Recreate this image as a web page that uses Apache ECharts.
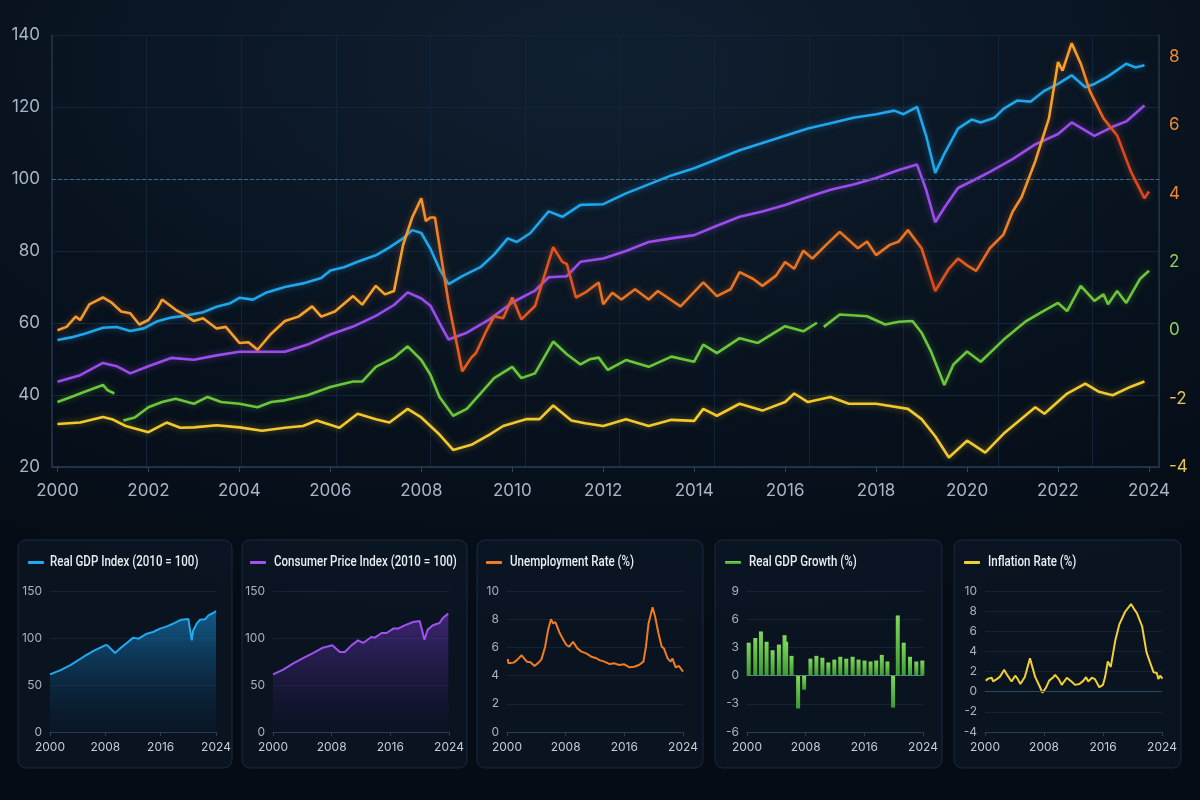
<!DOCTYPE html>
<html>
<head>
<meta charset="utf-8">
<script src="https://cdn.jsdelivr.net/npm/echarts@6/dist/echarts.min.js"></script>
<style>
  html, body { margin: 0; padding: 0; }
  body {
    width: 1200px; height: 800px; overflow: hidden;
    background: radial-gradient(ellipse 90% 70% at 50% 8%, #101f31 0%, #08131f 55%, #050c16 100%);
  }
  #chart { width: 1200px; height: 800px; }
</style>
</head>
<body>
<div id="chart"></div>
<script>
// main chart - left axis (index), right axis (percent)
var gdpIndexMain = [[2000,55.3],[2000.3,56],[2000.6,57],[2001,58.7],[2001.3,58.9],[2001.6,57.8],[2001.9,58.5],[2002.2,60.5],[2002.5,61.5],[2002.8,62],[2003.2,63],[2003.5,64.5],[2003.8,65.5],[2004,67],[2004.3,66.5],[2004.6,68.5],[2005,70],[2005.4,71],[2005.8,72.5],[2006,74.6],[2006.3,75.5],[2006.6,77],[2007,78.8],[2007.3,81],[2007.6,83.5],[2007.8,85.8],[2008,85],[2008.2,80.6],[2008.4,75],[2008.6,70.8],[2008.9,73],[2009.3,75.5],[2009.6,79],[2009.9,83.5],[2010.1,82.5],[2010.4,85],[2010.8,91],[2011.1,89.5],[2011.5,92.8],[2012,93],[2012.5,96],[2013,98.5],[2013.5,101],[2014,103],[2014.5,105.5],[2015,108],[2015.5,110],[2016,112],[2016.5,114],[2017,115.5],[2017.5,117],[2018,118],[2018.4,119],[2018.6,118],[2018.9,120],[2019.1,112],[2019.3,101.7],[2019.5,107],[2019.8,114],[2020.1,116.5],[2020.3,115.7],[2020.6,117],[2020.8,119.5],[2021.1,121.8],[2021.4,121.5],[2021.7,124.5],[2022,126.4],[2022.3,128.8],[2022.6,125.5],[2022.8,126.4],[2023.1,128.5],[2023.5,132],[2023.7,131],[2023.9,131.6]];
var cpiMain = [[2000,43.7],[2000.5,45.5],[2001,48.9],[2001.3,48],[2001.6,46],[2002,48],[2002.5,50.3],[2003,49.8],[2003.5,51],[2004,52],[2004.5,52],[2005,52],[2005.5,54],[2006,56.8],[2006.5,59],[2007,62],[2007.4,65],[2007.7,68.5],[2008,66.8],[2008.2,64.8],[2008.4,60],[2008.6,55.4],[2009,57.3],[2009.5,61],[2010,65.7],[2010.5,69],[2010.8,72.7],[2011.2,73],[2011.5,77],[2012,77.9],[2012.5,80],[2013,82.5],[2013.5,83.5],[2014,84.4],[2014.5,87],[2015,89.5],[2015.5,91],[2016,92.8],[2016.5,95],[2017,97],[2017.5,98.5],[2018,100.3],[2018.5,102.5],[2018.9,104],[2019.1,97],[2019.3,88],[2019.5,92],[2019.8,97.5],[2020.2,100],[2020.5,102],[2021,105.5],[2021.5,109.6],[2022,112.5],[2022.3,115.7],[2022.8,112],[2023.2,114.5],[2023.5,116],[2023.9,120.4]];
var unempMain = [[2000,0.0],[2000.2,0.1],[2000.4,0.4],[2000.5,0.3],[2000.7,0.76],[2001,0.96],[2001.2,0.8],[2001.4,0.55],[2001.6,0.5],[2001.8,0.17],[2002,0.3],[2002.2,0.65],[2002.3,0.9],[2002.6,0.6],[2002.8,0.45],[2003,0.27],[2003.2,0.35],[2003.5,0.05],[2003.7,0.1],[2004,-0.37],[2004.2,-0.35],[2004.4,-0.57],[2004.7,-0.1],[2005,0.27],[2005.3,0.4],[2005.6,0.7],[2005.8,0.4],[2006.1,0.55],[2006.5,1.0],[2006.7,0.75],[2007,1.3],[2007.2,1.05],[2007.4,1.15],[2007.6,2.5],[2007.8,3.3],[2008,3.86],[2008.1,3.2],[2008.2,3.3],[2008.3,3.3],[2008.6,0.8],[2008.9,-1.2],[2009.1,-0.8],[2009.2,-0.67],[2009.4,-0.1],[2009.6,0.41],[2009.8,0.35],[2010,0.96],[2010.2,0.32],[2010.5,0.71],[2010.9,2.43],[2011.1,2.0],[2011.2,1.94],[2011.4,0.96],[2011.6,1.1],[2011.9,1.4],[2012,0.76],[2012.2,1.1],[2012.4,0.9],[2012.7,1.2],[2013,0.9],[2013.2,1.15],[2013.7,0.7],[2014.2,1.4],[2014.5,1.0],[2014.8,1.2],[2015,1.7],[2015.3,1.5],[2015.5,1.3],[2015.8,1.6],[2016,2.0],[2016.2,1.8],[2016.4,2.33],[2016.6,2.1],[2016.9,2.5],[2017.2,2.88],[2017.6,2.4],[2017.8,2.6],[2018,2.2],[2018.3,2.5],[2018.5,2.6],[2018.7,2.93],[2019,2.4],[2019.3,1.15],[2019.6,1.8],[2019.8,2.1],[2020,1.9],[2020.2,1.74],[2020.5,2.4],[2020.8,2.8],[2021,3.47],[2021.2,3.9],[2021.5,4.95],[2021.8,6.2],[2022,7.85],[2022.1,7.6],[2022.3,8.4],[2022.5,7.8],[2022.7,7.0],[2023,6.2],[2023.3,5.7],[2023.6,4.65],[2023.9,3.86],[2024,4.06]];
var growthMain = [[2000,-2.1],[2000.3,-1.95],[2000.6,-1.8],[2001,-1.6],[2001.1,-1.75],[2001.25,-1.85],[2001.3,'-'],[2001.45,-2.64],[2001.7,-2.55],[2002,-2.25],[2002.3,-2.1],[2002.6,-2.0],[2003,-2.15],[2003.3,-1.95],[2003.6,-2.1],[2004,-2.15],[2004.4,-2.25],[2004.7,-2.1],[2005,-2.05],[2005.5,-1.9],[2006,-1.66],[2006.5,-1.5],[2006.7,-1.5],[2007,-1.07],[2007.4,-0.8],[2007.7,-0.47],[2008,-0.87],[2008.2,-1.3],[2008.4,-1.95],[2008.7,-2.5],[2009,-2.3],[2009.3,-1.85],[2009.6,-1.4],[2010,-1.07],[2010.2,-1.4],[2010.5,-1.26],[2010.9,-0.33],[2011.2,-0.7],[2011.5,-1.0],[2011.7,-0.85],[2011.9,-0.8],[2012.1,-1.16],[2012.5,-0.87],[2013,-1.07],[2013.5,-0.77],[2014,-0.92],[2014.2,-0.42],[2014.5,-0.67],[2015,-0.23],[2015.4,-0.37],[2016,0.12],[2016.4,-0.03],[2016.7,0.22],[2016.75,'-'],[2016.85,0.1],[2017.2,0.46],[2017.8,0.41],[2018.2,0.17],[2018.5,0.25],[2018.8,0.27],[2019,-0.07],[2019.2,-0.6],[2019.5,-1.6],[2019.7,-1.0],[2020,-0.62],[2020.3,-0.92],[2020.8,-0.28],[2021.3,0.27],[2021.6,0.5],[2022,0.8],[2022.2,0.56],[2022.5,1.3],[2022.8,0.86],[2023,1.05],[2023.1,0.76],[2023.3,1.15],[2023.5,0.8],[2023.8,1.5],[2024,1.74]];
var inflMain = [[2000,-2.74],[2000.5,-2.7],[2001,-2.54],[2001.2,-2.6],[2001.5,-2.8],[2002,-2.98],[2002.4,-2.7],[2002.7,-2.85],[2003,-2.84],[2003.5,-2.78],[2004,-2.84],[2004.5,-2.94],[2005,-2.85],[2005.4,-2.8],[2005.7,-2.64],[2006.2,-2.85],[2006.6,-2.44],[2007,-2.6],[2007.3,-2.7],[2007.7,-2.3],[2008,-2.55],[2008.4,-3.05],[2008.7,-3.5],[2009.1,-3.35],[2009.5,-3.05],[2009.8,-2.8],[2010.3,-2.6],[2010.6,-2.6],[2010.9,-2.2],[2011.3,-2.64],[2011.6,-2.72],[2012,-2.8],[2012.5,-2.6],[2013,-2.8],[2013.5,-2.62],[2014,-2.65],[2014.2,-2.3],[2014.5,-2.5],[2015,-2.15],[2015.5,-2.35],[2016,-2.1],[2016.2,-1.85],[2016.5,-2.1],[2017,-1.95],[2017.4,-2.15],[2018,-2.15],[2018.7,-2.3],[2019,-2.6],[2019.3,-3.1],[2019.6,-3.72],[2020,-3.23],[2020.4,-3.58],[2020.8,-3.03],[2021.5,-2.25],[2021.7,-2.44],[2022.2,-1.85],[2022.6,-1.56],[2022.9,-1.8],[2023.2,-1.9],[2023.6,-1.65],[2023.9,-1.5]];

// small panels
var gdpIndexSmall = [[2000,61.3],[2001.45,65.6],[2002.9,70.9],[2004.8,79.8],[2006.3,86.2],[2007.95,92.2],[2008.3,92.2],[2009.4,84],[2010.1,88.7],[2011.1,94.7],[2012.05,100.4],[2012.8,99.3],[2014,104.6],[2014.9,106.4],[2015.9,110],[2016.9,112.4],[2017.8,115.2],[2019,119.5],[2020,120.2],[2020.2,118.8],[2020.5,97.5],[2020.7,108],[2021.2,115.2],[2021.7,119.5],[2022.4,119.9],[2022.9,124.1],[2023.6,126.6],[2024,128.7]];
var cpiSmall = [[2000,61.3],[2001.4,66.3],[2002.7,72.7],[2004.1,78.7],[2005.45,84],[2006.8,89.7],[2008.1,92.2],[2009.1,85.1],[2009.8,85.1],[2010.7,92.2],[2011.6,97.5],[2011.8,98.2],[2012.3,94.7],[2013.4,101],[2013.9,100.4],[2014.8,105.3],[2015.5,105.3],[2016.4,110],[2017.05,110],[2017.95,113.5],[2019.1,117],[2020,118],[2020.2,118.8],[2020.65,98.2],[2021.1,108.9],[2021.8,113.5],[2022.7,116],[2023.2,121.6],[2023.9,125.9]];
var unempSmall = [[2000.1,5.18],[2000.2,4.87],[2000.9,4.92],[2001.35,5.1],[2002.0,5.44],[2002.7,4.99],[2003.2,4.95],[2003.75,4.68],[2004.3,4.92],[2004.7,5.15],[2005.2,6.05],[2005.6,7.23],[2006.0,7.99],[2006.3,7.7],[2006.6,7.8],[2007.2,7.0],[2007.7,6.52],[2008.1,6.17],[2008.5,6.05],[2009.0,6.4],[2009.6,5.93],[2010.15,5.7],[2010.8,5.58],[2011.5,5.34],[2012.2,5.23],[2012.6,5.1],[2013.3,4.99],[2014.0,4.82],[2014.65,4.87],[2015.3,4.75],[2016.0,4.8],[2016.7,4.59],[2017.35,4.63],[2018.0,4.75],[2018.6,4.99],[2018.95,6.05],[2019.3,7.7],[2019.85,8.84],[2020.2,8.18],[2020.65,7.0],[2021.1,6.05],[2021.4,5.93],[2021.9,5.22],[2022.3,4.99],[2022.55,5.22],[2023.0,4.59],[2023.45,4.68],[2024,4.28]];
var growthYears = [2000.23,2001.13,2001.9,2002.67,2003.49,2004.35,2005.12,2005.34,2006.07,2006.97,2007.79,2008.65,2009.46,2010.28,2011.09,2011.91,2012.72,2013.54,2014.4,2015.21,2016.03,2016.85,2017.62,2018.38,2019.15,2019.92,2020.56,2021.37,2022.23,2023.09,2023.91];
var growthVals = [3.5,4.0,4.7,3.6,2.7,3.3,4.3,3.6,2.1,-3.5,-1.5,1.8,2.1,1.9,1.4,1.7,2.0,1.8,2.0,1.7,1.6,1.5,1.6,2.2,1.5,-3.4,6.4,3.5,2.0,1.5,1.6];
var inflSmall = [[2000.1,1.1],[2000.45,1.3],[2000.9,1.39],[2001.1,1.02],[2001.6,1.25],[2002.0,1.47],[2002.6,2.17],[2003.0,1.67],[2003.6,1.02],[2004.1,1.59],[2004.4,1.3],[2004.8,0.76],[2005.4,1.47],[2006.1,3.31],[2006.8,1.47],[2007.4,0.54],[2007.8,-0.11],[2008.3,0.45],[2008.7,1.1],[2009.3,1.47],[2009.5,1.67],[2010.0,1.25],[2010.4,0.68],[2011.1,1.39],[2011.8,0.96],[2012.2,0.68],[2012.8,0.76],[2013.35,1.1],[2013.7,1.44],[2014.0,1.02],[2014.5,1.39],[2014.9,1.25],[2015.5,0.45],[2016.0,0.68],[2016.3,1.5],[2016.65,3.0],[2017.05,2.46],[2017.65,5.03],[2018.2,6.66],[2019.0,7.94],[2019.8,8.7],[2020.2,8.23],[2020.6,7.8],[2021.3,6.5],[2021.9,3.9],[2022.4,2.86],[2022.85,1.94],[2023.3,1.86],[2023.5,1.25],[2023.75,1.59],[2024.05,1.3]];

var panelTitles = ['Real GDP Index (2010 = 100)', 'Consumer Price Index (2010 = 100)', 'Unemployment Rate (%)', 'Real GDP Growth (%)', 'Inflation Rate (%)'];
var mainYearTicks = [2000,2002,2004,2006,2008,2010,2012,2014,2016,2018,2020,2022,2024];
var rightTickColor = { '8':'o', '6':'o', '4':'o', '2':'g', '0':'g', '-2':'y', '-4':'y' };

var growthData = [];
for (var i = 0; i < growthYears.length; i++) {
  growthData.push([growthYears[i], growthVals[i]]);
}

var FONT = 'Inter, Roboto, "Noto Sans", sans-serif';
var labelGrey = '#a9b5c7';
var faint = '#142437';

var myChart = echarts.init(document.getElementById('chart'), null, { renderer: 'canvas' });

function smallX(grid) {
  return {
    type: 'value', gridIndex: grid, min: 2000, max: 2024, interval: 8,
    axisLine: { show: true, onZero: false, lineStyle: { color: '#2a3c52', width: 1 } },
    axisTick: { show: true, length: 4, lineStyle: { color: '#2a3c52' } },
    axisLabel: { color: '#c3ccd8', fontSize: 12, fontFamily: FONT, margin: 9, formatter: function (v) { return String(v); } },
    splitLine: { show: false }
  };
}
function smallY(grid, min, max, step) {
  return {
    type: 'value', gridIndex: grid, min: min, max: max, interval: step,
    axisLine: { show: false, onZero: false }, axisTick: { show: false },
    axisLabel: { color: '#a7b2c1', fontSize: 12, fontFamily: FONT, margin: 8 },
    splitLine: { show: true, lineStyle: { color: faint, width: 1 } }
  };
}
function cardRect(x, w) {
  return {
    type: 'rect', z: -10, silent: true,
    shape: { x: x, y: 540, width: w, height: 228, r: 8 },
    style: { fill: 'rgba(14,27,44,0.55)', stroke: '#1a2b40', lineWidth: 1 }
  };
}
// legend draws the colour key only; the title text is a narrowed graphic text
function smallLegend(name, x) {
  return {
    data: [name], left: x, top: 561, padding: 0, icon: 'roundRect',
    itemWidth: 16, itemHeight: 3, selectedMode: false,
    formatter: function () { return ''; },
    textStyle: { fontSize: 1 }
  };
}
function cardTitle(text, x) {
  return {
    type: 'text', x: x, y: 562, scaleX: 0.77, silent: true, z: 10,
    style: { text: text, fill: '#e8edf4', fontSize: 15, fontWeight: 500, fontFamily: 'Roboto, Inter, sans-serif',
             verticalAlign: 'middle', align: 'left' }
  };
}

var option = {
  backgroundColor: 'transparent',
  animation: false,
  graphic: [
    cardRect(18, 214), cardRect(242, 225), cardRect(477, 226), cardRect(715, 227), cardRect(954, 227),
    cardTitle(panelTitles[0], 50), cardTitle(panelTitles[1], 274), cardTitle(panelTitles[2], 510),
    cardTitle(panelTitles[3], 749), cardTitle(panelTitles[4], 988)
  ],
  legend: [
    smallLegend(panelTitles[0], 28),
    smallLegend(panelTitles[1], 250),
    smallLegend(panelTitles[2], 486),
    smallLegend(panelTitles[3], 725),
    smallLegend(panelTitles[4], 964)
  ],
  grid: [
    { left: 52, right: 41, top: 35, height: 432 },
    { left: 50, top: 591, width: 166, height: 141 },
    { left: 273, top: 591, width: 176, height: 141 },
    { left: 507, top: 591, width: 176, height: 141 },
    { left: 747, top: 591, width: 176, height: 141 },
    { left: 985, top: 591, width: 177, height: 141 }
  ],
  xAxis: [
    {
      type: 'value', gridIndex: 0, min: 1999.88, max: 2024.22,
      axisLine: { show: true, onZero: false, lineStyle: { color: '#263b53', width: 1.5 } },
      axisTick: { show: true, length: 5, customValues: mainYearTicks, lineStyle: { color: '#2c4460' } },
      axisLabel: { color: labelGrey, fontSize: 17, fontFamily: FONT, margin: 15, customValues: mainYearTicks,
                   formatter: function (v) { return String(v); } },
      splitLine: { show: false }
    },
    {
      // background column lines of the main panel
      type: 'value', gridIndex: 0, min: -48, max: 1059, interval: 94.6,
      axisLine: { show: false, onZero: false }, axisTick: { show: false }, axisLabel: { show: false },
      splitLine: { show: true, lineStyle: { color: '#13233a', width: 1 } }
    },
    smallX(1), smallX(2), smallX(3), smallX(4), smallX(5)
  ],
  yAxis: [
    {
      type: 'value', gridIndex: 0, min: 20, max: 140, interval: 20,
      axisLine: { show: true, onZero: false, lineStyle: { color: '#20344b', width: 1.5 } }, axisTick: { show: false },
      axisLabel: { color: labelGrey, fontSize: 17, fontFamily: FONT, margin: 12 },
      splitLine: { show: true, lineStyle: { color: '#14253a', width: 1 } }
    },
    {
      type: 'value', gridIndex: 0, min: -4, max: 8.64, interval: 2, position: 'right',
      axisLine: { show: true, onZero: false, lineStyle: { color: '#20344b', width: 1.5 } }, axisTick: { show: false },
      axisLabel: {
        margin: 10, fontSize: 17, fontFamily: FONT,
        formatter: function (v) {
          var c = rightTickColor[String(v)];
          return c ? '{' + c + '|' + v + '}' : '';
        },
        rich: {
          o: { color: '#f0892e', fontSize: 17, fontFamily: FONT },
          g: { color: '#93cf5c', fontSize: 17, fontFamily: FONT },
          y: { color: '#e6c552', fontSize: 17, fontFamily: FONT }
        }
      },
      splitLine: { show: false }
    },
    smallY(1, 0, 150, 50),
    smallY(2, 0, 150, 50),
    smallY(3, 0, 10, 2),
    smallY(4, -6, 9, 3),
    smallY(5, -4, 10, 2)
  ],
  series: [
    {
      name: 'GDP index', type: 'line', xAxisIndex: 0, yAxisIndex: 0, data: gdpIndexMain,
      showSymbol: false, lineStyle: { color: '#1fa6ec', width: 2.6, shadowBlur: 6, shadowColor: 'rgba(31,166,236,0.5)' },
      itemStyle: { color: '#1fa6ec' }, z: 5,
      markLine: {
        silent: true, symbol: 'none', label: { show: false },
        lineStyle: { type: 'dashed', color: '#3a6a8e', width: 1 },
        data: [{ yAxis: 100 }]
      }
    },
    {
      name: 'CPI', type: 'line', xAxisIndex: 0, yAxisIndex: 0, data: cpiMain,
      showSymbol: false, lineStyle: { color: '#9b4dec', width: 2.6, shadowBlur: 6, shadowColor: 'rgba(155,77,236,0.5)' },
      itemStyle: { color: '#9b4dec' }, z: 4
    },
    {
      name: 'Unemployment', type: 'line', xAxisIndex: 0, yAxisIndex: 1, data: unempMain,
      showSymbol: false, z: 6,
      lineStyle: {
        width: 2.6, shadowBlur: 6, shadowColor: 'rgba(240,120,40,0.45)',
        color: new echarts.graphic.LinearGradient(0, 0, 1, 0, [
          { offset: 0, color: '#f09a2e' },
          { offset: 0.31, color: '#f6a52a' },
          { offset: 0.345, color: '#f08a28' },
          { offset: 0.365, color: '#e85a20' },
          { offset: 0.47, color: '#e4501e' },
          { offset: 0.5, color: '#ea7420' },
          { offset: 0.78, color: '#ea7420' },
          { offset: 0.8, color: '#e0471c' },
          { offset: 0.85, color: '#e86a20' },
          { offset: 0.875, color: '#f08a24' },
          { offset: 0.9, color: '#f7a224' },
          { offset: 0.93, color: '#f7a224' },
          { offset: 0.95, color: '#ea6a20' },
          { offset: 0.97, color: '#e0451c' },
          { offset: 1, color: '#e0451c' }
        ])
      }
    },
    {
      name: 'GDP growth', type: 'line', xAxisIndex: 0, yAxisIndex: 1, data: growthMain,
      showSymbol: false, connectNulls: false,
      lineStyle: { color: '#6cc63c', width: 2.6, shadowBlur: 6, shadowColor: 'rgba(108,198,60,0.45)' },
      itemStyle: { color: '#6cc63c' }, z: 3
    },
    {
      name: 'Inflation', type: 'line', xAxisIndex: 0, yAxisIndex: 1, data: inflMain,
      showSymbol: false,
      lineStyle: { color: '#f2c82c', width: 2.6, shadowBlur: 6, shadowColor: 'rgba(242,200,44,0.45)' },
      itemStyle: { color: '#f2c82c' }, z: 3
    },
    {
      name: panelTitles[0], type: 'line', xAxisIndex: 2, yAxisIndex: 2, data: gdpIndexSmall,
      showSymbol: false, lineStyle: { color: '#22aaf0', width: 2 }, itemStyle: { color: '#22aaf0' },
      areaStyle: {
        color: new echarts.graphic.LinearGradient(0, 0, 0, 1, [
          { offset: 0, color: 'rgba(24,140,210,0.85)' },
          { offset: 1, color: 'rgba(8,30,55,0.3)' }
        ])
      }
    },
    {
      name: panelTitles[1], type: 'line', xAxisIndex: 3, yAxisIndex: 3, data: cpiSmall,
      showSymbol: false, lineStyle: { color: '#a052ee', width: 2 }, itemStyle: { color: '#a052ee' },
      areaStyle: {
        color: new echarts.graphic.LinearGradient(0, 0, 0, 1, [
          { offset: 0, color: 'rgba(110,55,190,0.75)' },
          { offset: 1, color: 'rgba(20,14,45,0.3)' }
        ])
      }
    },
    {
      name: panelTitles[2], type: 'line', xAxisIndex: 4, yAxisIndex: 4, data: unempSmall,
      showSymbol: false, lineStyle: { color: '#f07c1e', width: 2 }, itemStyle: { color: '#f07c1e' }
    },
    {
      name: panelTitles[3], type: 'bar', xAxisIndex: 5, yAxisIndex: 5, data: growthData,
      barWidth: 4,
      itemStyle: {
        color: new echarts.graphic.LinearGradient(0, 0, 0, 1, [
          { offset: 0, color: '#7fd85a' },
          { offset: 1, color: '#3c9a2e' }
        ])
      },
      markLine: {
        silent: true, symbol: 'none', label: { show: false },
        lineStyle: { type: 'solid', color: '#4d8a86', width: 1.2 },
        data: [{ yAxis: 0 }]
      }
    },
    {
      name: panelTitles[4], type: 'line', xAxisIndex: 6, yAxisIndex: 6, data: inflSmall,
      showSymbol: false, lineStyle: { color: '#f2d030', width: 2 }, itemStyle: { color: '#f2d030' },
      markLine: {
        silent: true, symbol: 'none', label: { show: false },
        lineStyle: { type: 'solid', color: '#2c4865', width: 1.2 },
        data: [{ yAxis: 0 }]
      }
    }
  ]
};

myChart.setOption(option);
</script>
</body>
</html>
